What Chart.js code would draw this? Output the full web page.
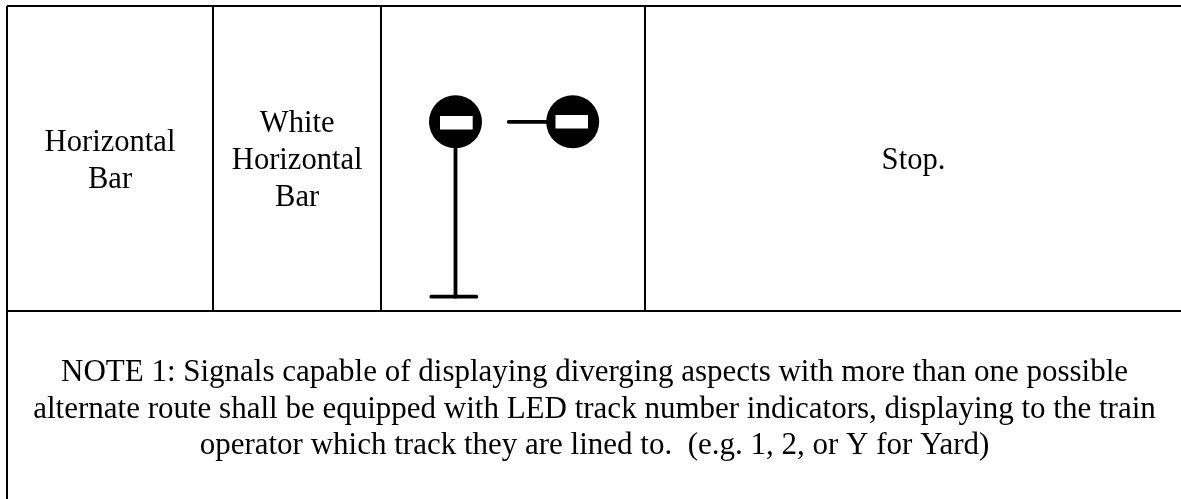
<!DOCTYPE html>
<html>
<head>
<meta charset="utf-8">
<style>
  html, body { margin: 0; padding: 0; background: #fff; }
  canvas { display: block; }
</style>
<script src="https://cdn.jsdelivr.net/npm/chart.js@4/dist/chart.umd.js"></script>
</head>
<body>
<canvas id="chart" width="1181" height="499"></canvas>
<script>
// table rules in px
const tableTop = 6;
const rowRule = 311;
const tableRight = 1181;
const tableBottom = 499;
const leftEdge = 7;
const columnRules = [213, 381, 645];

// signal heads: lamp centres, radius is set in the dataset
const lampX = [455.5, 572.7];
const lampY = [121.8, 121.8];
const barLeft = [440, 555.5];
const barRight = [472.7, 588];
const barY = [122.8, 121.8];

// left signal post and base, right signal arm
const postX = [455.5, 455.5];
const postY = [121.8, 296.7];
const baseX = [431.3, 476.3];
const baseY = [296.7, 296.7];
const armX = [508.7, 572.7];
const armY = [121.8, 121.8];

// cell text
const col1Lines = ["Horizontal", "Bar"];
const col2Lines = ["White", "Horizontal", "Bar"];
const col4Lines = ["Stop."];
const noteLines = [
  "NOTE 1: Signals capable of displaying diverging aspects with more than one possible",
  "alternate route shall be equipped with LED track number indicators, displaying to the train",
  "operator which track they are lined to.  (e.g. 1, 2, or Y for Yard)"
];

const xy = (xs, ys) => xs.map((x, i) => ({x, y: ys[i]}));
const rule = (xs, ys) => ({data: xy(xs, ys), showLine: true, borderColor: "#000", borderWidth: 2, pointRadius: 0});
const stroke = (xs, ys) => ({data: xy(xs, ys), showLine: true, borderColor: "#000", borderWidth: 3.8, borderCapStyle: "round", pointRadius: 0});

const datasets = [];
// first dataset is painted last, so the white bars go first
barLeft.forEach((l, i) => {
  datasets.push({data: xy([l, barRight[i]], [barY[i], barY[i]]), showLine: true, borderColor: "#fff", borderWidth: 13.5, pointRadius: 0});
});
datasets.push({data: xy(lampX, lampY), showLine: false, pointRadius: 26.5, pointBackgroundColor: "#000", pointBorderWidth: 0});
datasets.push(stroke(postX, postY), stroke(baseX, baseY), stroke(armX, armY));
datasets.push(rule([leftEdge, tableRight], [tableTop, tableTop]));
datasets.push(rule([leftEdge, tableRight], [rowRule, rowRule]));
datasets.push(rule([leftEdge, leftEdge], [tableTop, tableBottom]));
columnRules.forEach(x => datasets.push(rule([x, x], [tableTop, rowRule])));

// text blocks: centre x, first baseline, line step, font px
const textBlocks = [
  {lines: col1Lines, x: 110, y: 151, step: 36.7, size: 30.6},
  {lines: col2Lines, x: 297.2, y: 132.3, step: 36.8, size: 30.6},
  {lines: col4Lines, x: 913.5, y: 169.3, step: 36.7, size: 30.6},
  {lines: noteLines, x: 594.5, y: 381, step: 36.5, size: 31}
];

const cellText = {
  id: "cellText",
  afterDatasetsDraw(chart) {
    const {ctx, scales} = chart;
    ctx.save();
    ctx.fillStyle = "#000";
    ctx.textAlign = "center";
    ctx.textBaseline = "alphabetic";
    textBlocks.forEach(b => {
      ctx.font = b.size + "px 'Liberation Serif'";
      b.lines.forEach((t, i) => {
        ctx.fillText(t, scales.x.getPixelForValue(b.x), scales.y.getPixelForValue(b.y + i * b.step));
      });
    });
    ctx.restore();
  }
};

new Chart(document.getElementById("chart"), {
  type: "scatter",
  data: {datasets},
  options: {
    responsive: false,
    animation: false,
    layout: {padding: 0, autoPadding: false},
    plugins: {legend: {display: false}, tooltip: {enabled: false}},
    scales: {
      x: {type: "linear", min: 0, max: 1181, display: false},
      y: {type: "linear", min: 0, max: 499, reverse: true, display: false}
    }
  },
  plugins: [cellText]
});
</script>
</body>
</html>
